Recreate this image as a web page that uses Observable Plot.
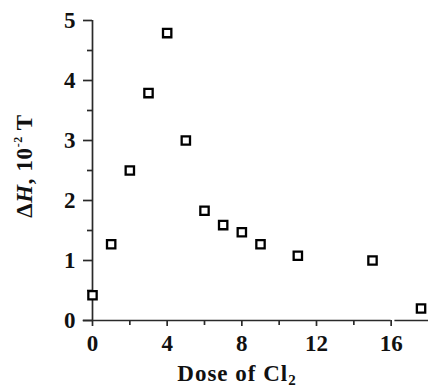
<!DOCTYPE html>
<html><head><meta charset="utf-8">
<script src="https://cdn.jsdelivr.net/npm/d3@7"></script>
<script src="https://cdn.jsdelivr.net/npm/@observablehq/plot@0.6"></script>
<style>
body{margin:0;background:#fff;}
svg{display:block;}
</style>
</head><body>
<div id="chart"></div>
<script>
const dose = [0, 1, 2, 3, 4, 5, 6, 7, 8, 9, 11, 15, 17.6];
const deltaH = [0.42, 1.27, 2.5, 3.79, 4.79, 3.0, 1.83, 1.59, 1.47, 1.27, 1.08, 1.0, 0.2];
const xTicks = [0, 4, 8, 12, 16];
const xMinor = [2, 6, 10, 14];
const yTicks = [0, 1, 2, 3, 4, 5];
const yMinor = [0.5, 1.5, 2.5, 3.5, 4.5];
const xLabel = "Dose of Cl";
const xLabelSub = "2";

const data = dose.map((d, i) => ({dose: d, dh: deltaH[i]}));
const font = "'Liberation Serif', 'Times New Roman', serif";
const ink = "#111";
const line = "#2a2a2a";

const plot = Plot.plot({
  width: 428, height: 389,
  marginLeft: 92, marginRight: 0, marginTop: 20, marginBottom: 69,
  style: {background: "#fff", color: ink},
  x: {domain: [0, 18]},
  y: {domain: [0, 5]},
  marks: [
    Plot.axisX({ticks: xTicks, tickSize: 6, tickPadding: 8, label: null, strokeWidth: 1.7, stroke: line, tickFormat: d => d}),
    Plot.axisX({ticks: xMinor, tickSize: 5, text: null, label: null, strokeWidth: 1.7, stroke: line}),
    Plot.axisY({ticks: yTicks, tickSize: 9, tickPadding: 8, label: null, strokeWidth: 1.7, stroke: line, tickFormat: d => d}),
    Plot.axisY({ticks: yMinor, tickSize: 5, text: null, label: null, strokeWidth: 1.7, stroke: line}),
    Plot.ruleX([0], {y1: 0, y2: 5, stroke: line, strokeWidth: 1.7}),
    Plot.ruleY([0], {x1: -0.5, x2: 16, stroke: line, strokeWidth: 1.7}),
    Plot.ruleY([0], {x1: 16.2, x2: 18, stroke: line, strokeWidth: 1.7}),
    Plot.dot(data, {x: "dose", y: "dh", symbol: "square", r: 4.7, stroke: "#000", strokeWidth: 2.3, fill: "#fff"})
  ]
});

const svg = d3.select(plot);
svg.selectAll("text")
  .style("font-family", font)
  .style("font-weight", "bold")
  .style("font-size", "23px")
  .style("fill", ink);

// x-axis title
const xt = svg.append("text")
  .attr("x", 237).attr("y", 381)
  .attr("text-anchor", "middle")
  .attr("font-family", font).attr("font-weight", "bold").attr("font-size", 23)
  .attr("letter-spacing", "1px")
  .attr("fill", ink);
xt.append("tspan").text(xLabel);
xt.append("tspan").attr("font-size", 15).attr("dy", 4).text(xLabelSub);

// y-axis title
const yt = svg.append("text")
  .attr("transform", "translate(32,166) rotate(-90)")
  .attr("text-anchor", "middle")
  .attr("font-family", font).attr("font-weight", "bold").attr("font-size", 23)
  .attr("letter-spacing", "0.6px")
  .attr("fill", ink);
yt.append("tspan").text("Δ");
yt.append("tspan").attr("font-style", "italic").text("H");
yt.append("tspan").text(", 10");
yt.append("tspan").attr("font-size", 12).attr("dy", -10).text("-2");
yt.append("tspan").attr("dy", 10).text(" T");

document.getElementById("chart").appendChild(plot);
</script>
</body></html>
